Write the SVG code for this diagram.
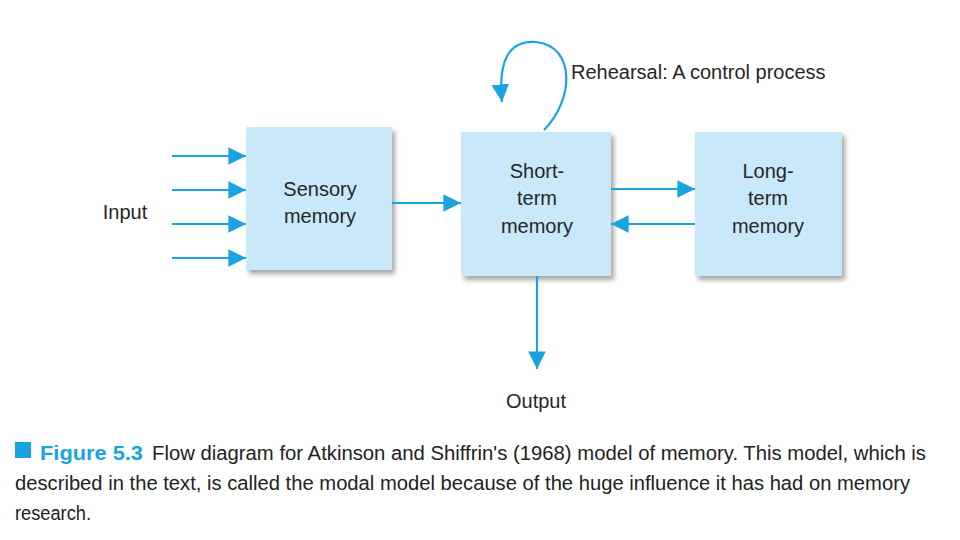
<svg xmlns="http://www.w3.org/2000/svg" width="960" height="540" viewBox="0 0 960 540">
<style>
.box{fill:#c9e8fa;filter:url(#sh)}
.lbl{font-family:"Liberation Sans",Arial,sans-serif;font-size:20px;fill:#262626;text-anchor:middle}
.ln{stroke:#1ba2e0;stroke-width:2.2;fill:none}
.cap{font-family:"Liberation Sans",Arial,sans-serif;font-size:20px;fill:#222}
</style>
<defs>
<filter id="sh" x="-10%" y="-10%" width="130%" height="130%">
<feDropShadow dx="3" dy="4" stdDeviation="2.5" flood-color="#000" flood-opacity="0.35"/>
</filter>
<marker id="ahL" viewBox="0 0 10 10" refX="10" refY="5" markerWidth="8" markerHeight="8" orient="auto">
<path d="M0,0 L10,5 L0,10 Z" fill="#1ba2e0"/>
</marker>
</defs>
<rect width="960" height="540" fill="#fff"/>
<g id="sensory"><rect class="box" x="246" y="127" width="146" height="143"/>
<text class="lbl" x="320" y="196">Sensory</text><text class="lbl" x="320" y="223">memory</text></g>
<g id="stm"><rect class="box" x="461" y="132" width="150" height="144"/>
<text class="lbl" x="537" y="178">Short-</text><text class="lbl" x="537" y="205">term</text><text class="lbl" x="537" y="233">memory</text></g>
<g id="ltm"><rect class="box" x="695" y="132" width="147" height="144"/>
<text class="lbl" x="768" y="178">Long-</text><text class="lbl" x="768" y="205">term</text><text class="lbl" x="768" y="233">memory</text></g>
<g id="labels">
<text class="lbl" x="125" y="219">Input</text>
<text class="lbl" x="536" y="408">Output</text>
<text class="lbl" x="571" y="79" style="text-anchor:start">Rehearsal: A control process</text>
</g>
<g id="connectors">
<g class="ln" marker-end="url(#ahL)">
<line x1="172" y1="156" x2="246" y2="156"/>
<line x1="172" y1="190" x2="246" y2="190"/>
<line x1="172" y1="224" x2="246" y2="224"/>
<line x1="172" y1="258" x2="246" y2="258"/>
<line x1="392" y1="203" x2="461" y2="203"/>
<line x1="611" y1="189" x2="695" y2="189"/>
<line x1="695" y1="224" x2="611" y2="224"/>
<line x1="537" y1="276" x2="537" y2="369"/>
<path d="M544,130 C574,100 576,46 536,42 C508,40 498,62 502,102"/>
</g>
</g>
<g id="caption">
<rect x="15" y="442" width="16" height="16" fill="#1ba2e0"/>
<text class="cap" x="40" y="460"><tspan fill="#1ba2e0" font-weight="bold" textLength="103" lengthAdjust="spacingAndGlyphs">Figure 5.3</tspan></text>
<text class="cap" x="152" y="460" textLength="774" lengthAdjust="spacingAndGlyphs">Flow diagram for Atkinson and Shiffrin's (1968) model of memory. This model, which is</text>
<text class="cap" x="15" y="490" textLength="895" lengthAdjust="spacingAndGlyphs">described in the text, is called the modal model because of the huge influence it has had on memory</text>
<text class="cap" x="15" y="520" textLength="76" lengthAdjust="spacingAndGlyphs">research.</text>
</g>
</svg>
